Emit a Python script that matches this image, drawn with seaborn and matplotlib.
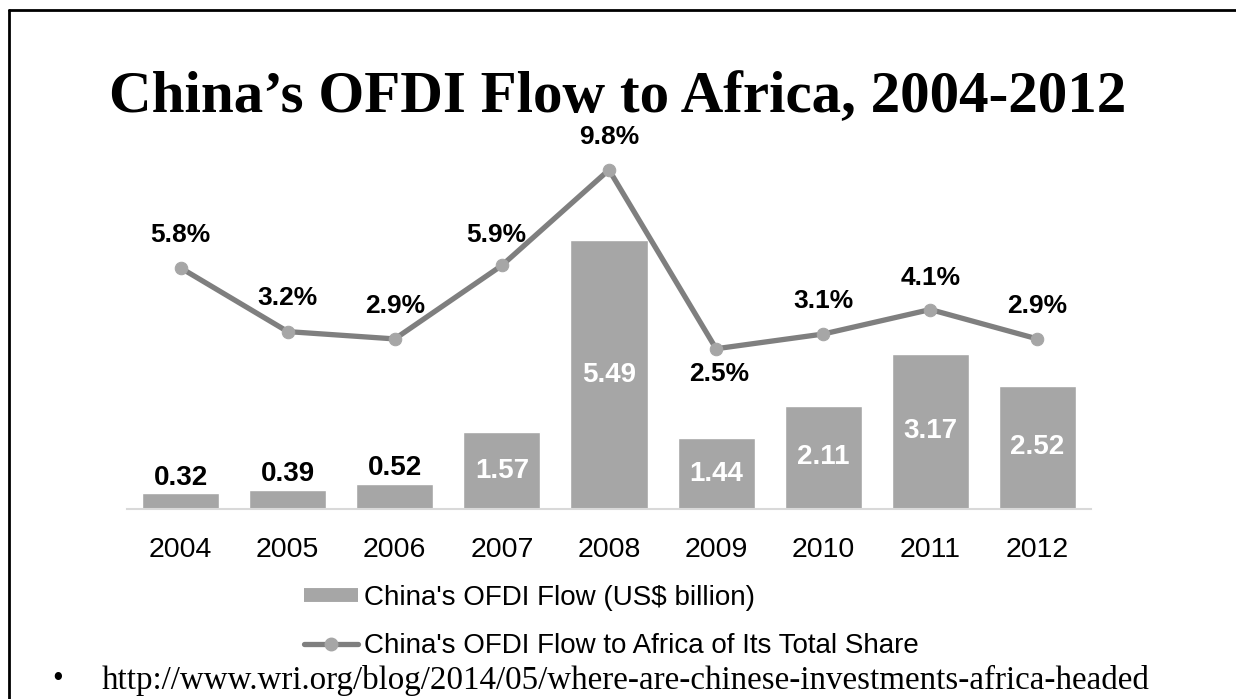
import numpy as np
import pandas as pd
import matplotlib
matplotlib.use("Agg")
import matplotlib.pyplot as plt
from matplotlib.lines import Line2D
import seaborn as sns

years = ["2004", "2005", "2006", "2007", "2008", "2009", "2010", "2011", "2012"]
ofdi_flow = [0.32, 0.39, 0.52, 1.57, 5.49, 1.44, 2.11, 3.17, 2.52]
africa_share = [5.8, 3.2, 2.9, 5.9, 9.8, 2.5, 3.1, 4.1, 2.9]
share_labels = ["5.8%", "3.2%", "2.9%", "5.9%", "9.8%", "2.5%", "3.1%", "4.1%", "2.9%"]
flow_labels = ["0.32", "0.39", "0.52", "1.57", "5.49", "1.44", "2.11", "3.17", "2.52"]

sns.set_theme(style="white")
plt.rcParams["font.family"] = ["Liberation Sans", "DejaVu Sans"]
plt.rcParams["text.color"] = "black"

W, H = 1236, 699
fig = plt.figure(figsize=(W / 100, H / 100), dpi=100)
fig.patch.set_facecolor("white")

ax = fig.add_axes([127 / W, 1 - 509 / H, (1091 - 127) / W, (509 - 150) / H])
df = pd.DataFrame({"year": years, "flow": ofdi_flow})
sns.barplot(data=df, x="year", y="flow", color="#a6a6a6", saturation=1,
            width=0.72, ax=ax, zorder=2)
ax.set_xlim(-0.5, 8.5)
ax.set_ylim(0, 7.33)
ax.set_xlabel("")
ax.set_ylabel("")
ax.set_yticks([])
for s in ["left", "right", "top"]:
    ax.spines[s].set_visible(False)
ax.spines["bottom"].set_color("#d9d9d9")
ax.spines["bottom"].set_linewidth(1.5)
ax.tick_params(axis="x", length=0, pad=20, labelsize=20.5, labelcolor="black")

cont = ax.containers[0]
above = [lab if v < 1 else "" for lab, v in zip(flow_labels, ofdi_flow)]
inside = [lab if v >= 1 else "" for lab, v in zip(flow_labels, ofdi_flow)]
ax.bar_label(cont, labels=above, padding=2, fontsize=20, fontweight="bold", color="black")
ax.bar_label(cont, labels=inside, label_type="center", fontsize=20, fontweight="bold", color="white")

ax2 = ax.twinx()
ax2.set_position(ax.get_position())
x_pos = np.arange(len(years))
sns.lineplot(x=x_pos, y=africa_share, ax=ax2, color="#7f7f7f", linewidth=3.8,
             marker="o", markersize=9, markerfacecolor="#a6a6a6",
             markeredgecolor="#a6a6a6", zorder=3)
ax2.set_ylim(-4.04, 10.61)
ax2.set_xlim(-0.5, 8.5)
ax2.set_yticks([])
ax2.set_ylabel("")
for s in ["left", "right", "top", "bottom"]:
    ax2.spines[s].set_visible(False)

label_offsets = [(0, 24), (0, 24), (0, 24), (-4, 22), (0, 24), (2, -18), (0, 24), (0, 23), (0, 24)]
for xi, yi, lab, off in zip(x_pos, africa_share, share_labels, label_offsets):
    ax2.annotate(lab, (xi, yi), xytext=off, textcoords="offset points",
                 ha="center", va="center", fontsize=19, fontweight="bold", color="black")

handles = [Line2D([0], [0], color="#a6a6a6", linewidth=10, solid_capstyle="butt"),
           Line2D([0], [0], color="#7f7f7f", linewidth=3.8, marker="o", markersize=9,
                  markerfacecolor="#a6a6a6", markeredgecolor="#a6a6a6",
                  solid_capstyle="round")]
fig.legend(handles, ["China's OFDI Flow (US$ billion)",
                     "China's OFDI Flow to Africa of Its Total Share"],
           loc="upper left", bbox_to_anchor=(304 / W, 1 - 585 / H), frameon=False,
           fontsize=20, handlelength=1.95, handletextpad=0.2, labelspacing=0.8,
           borderpad=0, borderaxespad=0, labelcolor="black")

fig.text(0.5, 1 - 98 / H, "China’s OFDI Flow to Africa, 2004-2012",
         ha="center", va="center", fontsize=42.5, fontweight="bold", color="black",
         family=["Liberation Serif", "DejaVu Serif"])
fig.text(58 / W, 1 - 680 / H, "•", ha="center", va="center", fontsize=22, color="black",
         family=["Liberation Serif", "DejaVu Serif"])
fig.text(102 / W, 1 - 680 / H,
         "http://www.wri.org/blog/2014/05/where-are-chinese-investments-africa-headed",
         ha="left", va="center", fontsize=23.75, color="black",
         family=["Liberation Serif", "DejaVu Serif"])

fig.add_artist(Line2D([9 / W, 1], [1 - 10 / H, 1 - 10 / H], color="black", linewidth=2,
                      transform=fig.transFigure))
fig.add_artist(Line2D([9 / W, 9 / W], [0, 1 - 10 / H], color="black", linewidth=2,
                      transform=fig.transFigure))

fig.savefig("out.png", dpi=100)
